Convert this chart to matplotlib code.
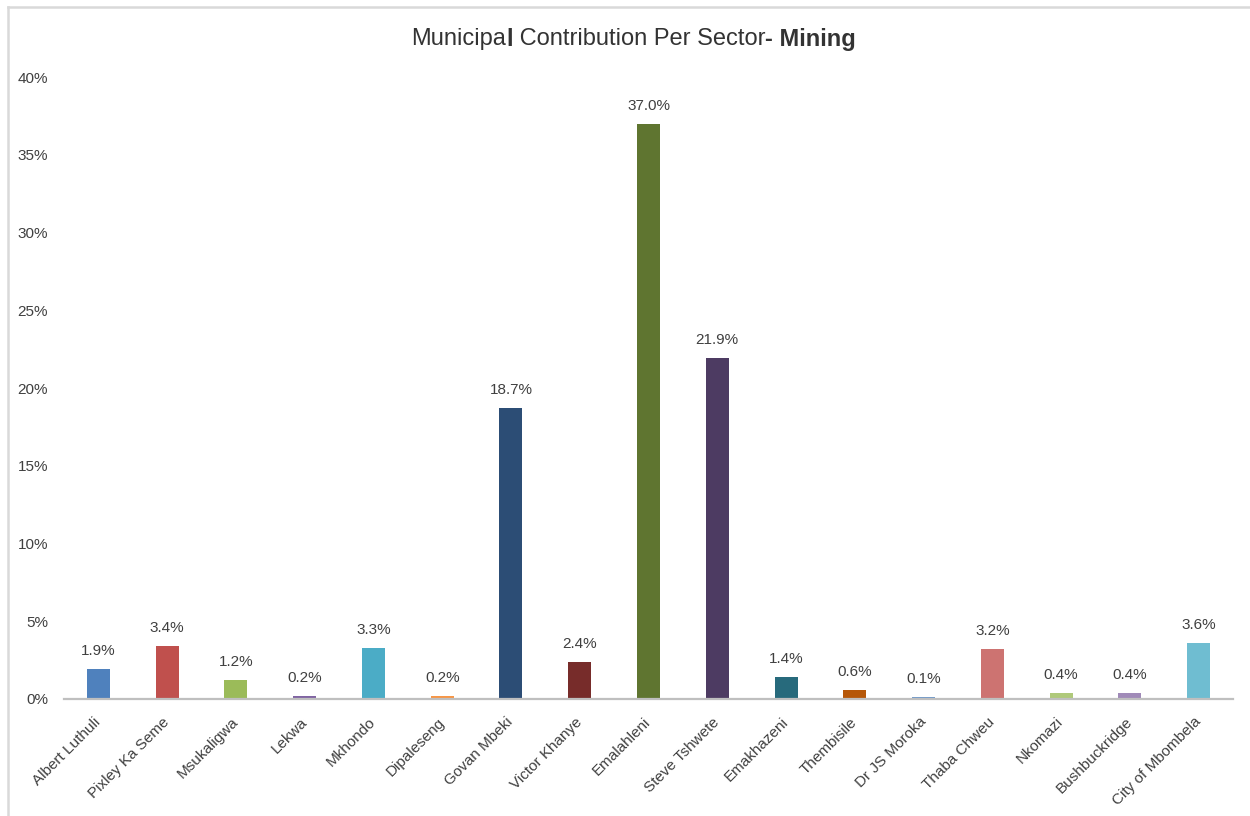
import matplotlib.pyplot as plt
from matplotlib.lines import Line2D

plt.rcParams['font.family'] = ['Liberation Sans', 'DejaVu Sans']

municipalities = ['Albert Luthuli', 'Pixley Ka Seme', 'Msukaligwa', 'Lekwa', 'Mkhondo',
                  'Dipaleseng', 'Govan Mbeki', 'Victor Khanye', 'Emalahleni', 'Steve Tshwete',
                  'Emakhazeni', 'Thembisile', 'Dr JS Moroka', 'Thaba Chweu', 'Nkomazi',
                  'Bushbuckridge', 'City of Mbombela']
share = [1.9, 3.4, 1.2, 0.2, 3.3, 0.2, 18.7, 2.4, 37.0, 21.9,
         1.4, 0.6, 0.1, 3.2, 0.4, 0.4, 3.6]
bar_colors = ['#4F81BD', '#C0504D', '#9BBB59', '#8064A2', '#4BACC6', '#F79646',
              '#2C4D75', '#772C2A', '#5F7530', '#4D3B62', '#276A7C', '#B65708',
              '#729ACA', '#CD7371', '#AFC97A', '#A08AB8', '#6FBDD1']
yticks = [0, 5, 10, 15, 20, 25, 30, 35, 40]

text_col = '#404040'

fig = plt.figure(figsize=(12.5, 8.16), dpi=100)
ax = fig.add_axes([0.0512, 0.1434, 0.9352, 0.7622])

x = range(len(municipalities))
bars = ax.bar(x, share, width=0.335, color=bar_colors, zorder=2)
for b, v in zip(bars, share):
    ax.annotate(f'{v:.1f}%', (b.get_x() + b.get_width() / 2, v),
                xytext=(0, 8), textcoords='offset points', ha='center', va='bottom',
                fontsize=11, color=text_col)

ax.set_xlim(-0.5, len(municipalities) - 0.5)
ax.set_ylim(0, 40)
ax.set_yticks(yticks)
ax.set_yticklabels([f'{t}%' for t in yticks], fontsize=11, color=text_col)
ax.set_xticks(list(x))
ax.set_xticklabels(municipalities, rotation=45, ha='right', va='center',
                   rotation_mode='anchor', fontsize=11, color=text_col)
ax.tick_params(axis='both', length=0)
ax.tick_params(axis='y', pad=11.5)
ax.tick_params(axis='x', pad=15)

for side in ['top', 'right', 'left']:
    ax.spines[side].set_visible(False)
ax.spines['bottom'].set_color('#BFBFBF')
ax.spines['bottom'].set_linewidth(1.6)

# title built from regular and bold runs, centred as a whole
title_parts = [('Municipa', 'normal'), ('l', 'bold'),
               (' Contribution Per Sector', 'normal'), ('- Mining', 'bold')]
renderer = fig.canvas.get_renderer()
pieces = []
for s, w in title_parts:
    t = fig.text(0, 0.952, s, ha='left', va='center', fontsize=17,
                 fontweight=w, color='#333333')
    pieces.append(t)
widths = [p.get_window_extent(renderer).width for p in pieces]
x0 = 0.507 * fig.bbox.width - sum(widths) / 2
for p, wd in zip(pieces, widths):
    p.set_x(x0 / fig.bbox.width)
    x0 += wd

# chart frame edges
fig.add_artist(Line2D([0.0064, 1.0], [0.9914, 0.9914], color='#D9D9D9', lw=1.8))
fig.add_artist(Line2D([0.0064, 0.0064], [0.0, 0.9914], color='#D9D9D9', lw=1.8))

fig.savefig('out.png', dpi=100)
